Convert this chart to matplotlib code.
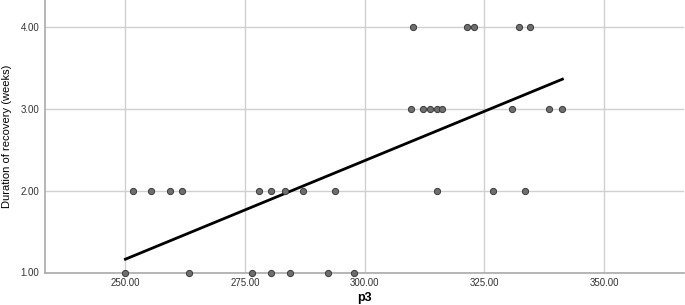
import matplotlib
matplotlib.use("Agg")
import matplotlib.pyplot as plt
import numpy as np

plt.rcParams['font.family'] = ['Liberation Sans', 'DejaVu Sans']

# p3 values, grouped by recovery duration
p3_w1 = [250.0, 263.3, 276.5, 280.5, 284.4, 292.3, 297.7]
p3_w2 = [251.5, 255.3, 259.3, 261.9, 277.9, 280.5, 283.3, 287.1, 293.7,
         315.0, 326.8, 333.4]
p3_w3 = [309.6, 312.2, 313.6, 315.0, 316.2, 330.7, 338.6, 341.3]
p3_w4 = [310.0, 321.4, 322.8, 332.2, 334.6]

x = np.array(p3_w1 + p3_w2 + p3_w3 + p3_w4)
y = np.array([1.0] * len(p3_w1) + [2.0] * len(p3_w2) +
             [3.0] * len(p3_w3) + [4.0] * len(p3_w4))

xticks = [250, 275, 300, 325, 350]
yticks = [1, 2, 3, 4]

fig = plt.figure(figsize=(6.85, 3.05), dpi=100)
ax = fig.add_axes([45/685, 32.5/305, 639/685, 272.5/305])

ax.grid(True, color='#d0d0d0', linewidth=1.0)
ax.set_axisbelow(True)

# least squares fit line over the data range
k, b = np.polyfit(x, y, 1)
xl = np.array([x.min(), x.max()])
ax.plot(xl, k*xl + b, color='black', linewidth=2, zorder=3)

ax.scatter(x, y, s=20, facecolor='#6e6e6e', edgecolor='#3a3a3a',
           linewidth=0.7, zorder=4, clip_on=False)

ax.set_xlim(233.2, 366.7)
ax.set_ylim(1.0, 4.33)
ax.set_xticks(xticks)
ax.set_yticks(yticks)
ax.set_xticklabels(['%.2f' % v for v in xticks], fontsize=7, color='#333333')
ax.set_yticklabels(['%.2f' % v for v in yticks], fontsize=7, color='#333333')
ax.tick_params(length=0, pad=4)

for s in ['top', 'right']:
    ax.spines[s].set_visible(False)
for s in ['left', 'bottom']:
    ax.spines[s].set_color('#aaaaaa')
    ax.spines[s].set_linewidth(1.2)

ax.set_xlabel('p3', fontsize=9, fontweight='bold', labelpad=3)
ax.set_ylabel('Duration of recovery (weeks)', fontsize=8, labelpad=6)

fig.savefig('out.png', dpi=100)
